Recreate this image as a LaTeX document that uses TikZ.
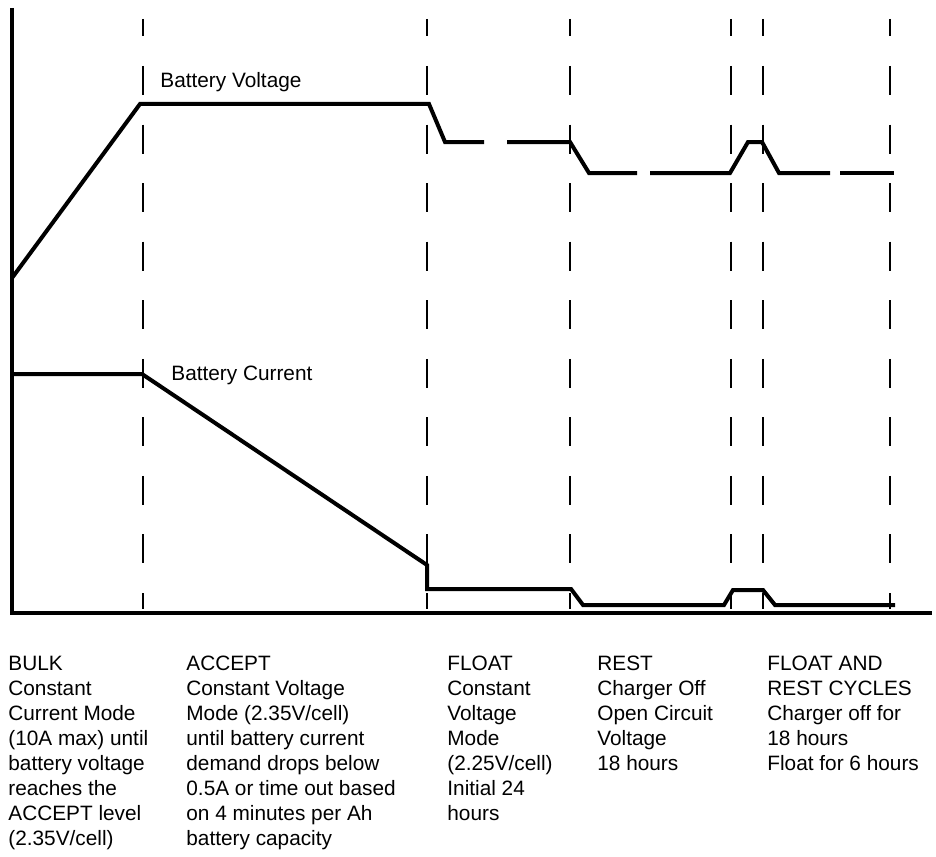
\documentclass[tikz,border=0pt]{standalone}
\usepackage{fontspec}
\setmainfont{Liberation Sans}
\begin{document}
\begin{tikzpicture}[x=0.5pt,y=-0.5pt,
  axis/.style={line width=1.6pt},
  curve/.style={line width=2pt,line join=miter},
  divider/.style={line width=1pt,dash pattern=on 14.5pt off 14.78pt,dash phase=5.78pt},
  lbl/.style={anchor=base west,inner sep=0pt,font=\fontsize{10.4}{12.5}\selectfont},
  col/.style={anchor=base west,inner sep=0pt,font=\fontsize{10.4}{12.5}\selectfont}]
\useasboundingbox (0,0) rectangle (936,856);
% axes
\coordinate (ytop) at (12,8);
\coordinate (orig) at (12,613);
\coordinate (xend) at (932,613);
\draw[axis] (ytop) -- (orig);
\draw[axis] (10,613) -- (xend);
% phase dividers
\foreach \x/\n in {143/a,427/b,570/c,731/d,763/e,890/f}{
  \coordinate (t\n) at (\x,19);
  \coordinate (b\n) at (\x,609);
  \draw[divider] (t\n) -- (b\n);
}
% battery voltage
\draw[curve] (12,278) -- (140,104) -- (429,104) -- (445,142) -- (484,142);
\draw[curve] (507,142) -- (570,142) -- (589,173) -- (637,173);
\draw[curve] (650,173) -- (730,173) -- (748,142) -- (762,142) -- (779,173) -- (830,173);
\draw[curve] (840,173) -- (894,173);
% battery current
\draw[curve] (12,374) -- (142,374) -- (427,565) -- (427,589) -- (571,589) -- (583,605) -- (724,605) -- (733,590) -- (763,590) -- (775,605) -- (895,605);
% labels
\node[lbl] (vlab) at (160,88) {Battery Voltage};
\node[lbl] (clab) at (171,380) {Battery Current};
% columns
\node[col] (bulk) at (8,670) {\begin{tabular}[t]{@{}l@{}}BULK\\Constant\\Current Mode\\(10A max) until\\battery voltage\\reaches the\\ACCEPT level\\(2.35V/cell)\end{tabular}};
\node[col] (accept) at (186,670) {\begin{tabular}[t]{@{}l@{}}ACCEPT\\Constant Voltage\\Mode (2.35V/cell)\\until battery current\\demand drops below\\0.5A or time out based\\on 4 minutes per Ah\\battery capacity\end{tabular}};
\node[col] (float) at (447,670) {\begin{tabular}[t]{@{}l@{}}FLOAT\\Constant\\Voltage\\Mode\\(2.25V/cell)\\Initial 24\\hours\end{tabular}};
\node[col] (rest) at (597,670) {\begin{tabular}[t]{@{}l@{}}REST\\Charger Off\\Open Circuit\\Voltage\\18 hours\end{tabular}};
\node[col] (cycles) at (767,670) {\begin{tabular}[t]{@{}l@{}}FLOAT AND\\REST CYCLES\\Charger off for\\18 hours\\Float for 6 hours\end{tabular}};
\end{tikzpicture}
\end{document}
